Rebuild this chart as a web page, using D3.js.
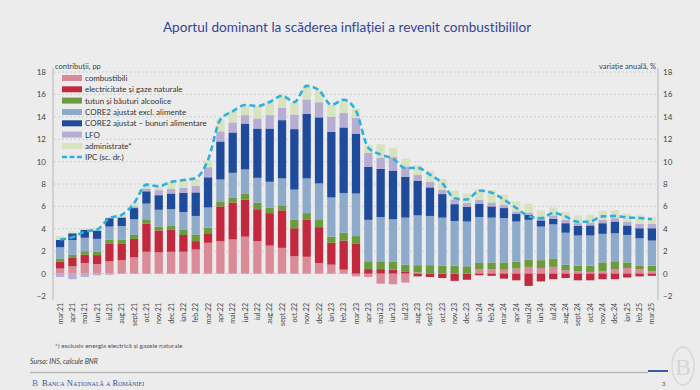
<!DOCTYPE html>
<html><head><meta charset="utf-8">
<script src="https://cdn.jsdelivr.net/npm/d3@7"></script>
<style>
html,body{margin:0;padding:0;background:#ececec;}
svg{display:block;font-family:Lato,"Open Sans",sans-serif;}
</style></head><body>
<svg id="c" width="700" height="390"></svg>
<script>
const months = ["mar.21","apr.21","mai.21","iun.21","iul.21","aug.21","sept.21","oct.21","nov.21","dec.21","ian.22","feb.22","mar.22","apr.22","mai.22","iun.22","iul.22","aug.22","sept.22","oct.22","nov.22","dec.22","ian.23","feb.23","mar.23","apr.23","mai.23","iun.23","iul.23","aug.23","sept.23","oct.23","nov.23","dec.23","ian.24","feb.24","mar.24","apr.24","mai.24","iun.24","iul.24","aug.24","sept.24","oct.24","nov.24","dec.24","ian.25","feb.25","mar.25"];

const combustibili = [0.45,0.65,0.95,0.85,1.1,1.2,1.45,1.95,1.9,1.95,1.95,2.15,2.75,2.9,3.05,3.3,2.9,2.5,2.3,1.55,1.5,0.95,0.8,0.35,-0.25,-0.3,-0.9,-0.95,-0.8,0.1,0.05,0.05,0.05,0.05,0.4,0.4,0.35,0.45,0.6,0.5,0.6,0.3,0.2,0.15,0.2,0.4,0.5,0.4,0.2];
const electricitate = [0.6,0.75,0.75,0.8,1.6,1.5,1.65,2.5,1.95,1.95,1.5,0.75,0.85,3.1,3.3,3.3,2.85,2.9,3.35,2.5,3.3,3.2,1.95,2.6,2.65,0.4,0.4,0.35,0.2,-0.25,-0.3,-0.4,-0.65,-0.55,-0.15,-0.2,-0.45,-0.6,-1.1,-0.7,-0.5,-0.4,-0.6,-0.6,-0.5,-0.5,-0.35,-0.25,-0.2];
const tutun = [0.3,0.3,0.3,0.3,0.35,0.35,0.35,0.4,0.35,0.35,0.45,0.6,0.5,0.45,0.45,0.55,0.6,0.5,0.45,0.75,0.6,0.7,0.55,0.7,0.7,0.7,0.7,0.7,0.6,0.65,0.7,0.65,0.65,0.6,0.55,0.6,0.65,0.6,0.65,0.7,0.75,0.5,0.5,0.55,0.8,0.7,0.5,0.3,0.5];
const core2Excl = [1.0,1.3,1.2,1.15,1.15,1.2,1.4,1.4,1.5,1.5,1.6,1.65,1.8,1.95,2.2,2.15,2.2,2.3,2.4,2.7,3.1,3.2,3.5,3.55,3.8,3.7,3.95,3.8,4.2,4.45,4.4,4.3,4.0,4.0,4.1,4.0,3.95,3.6,3.55,3.0,3.05,2.85,2.7,2.7,2.55,2.5,2.45,2.45,2.25];
const core2Alim = [0.65,0.6,0.7,0.75,0.75,0.75,1.0,1.1,1.3,1.4,1.7,2.1,2.7,3.4,3.6,4.1,4.4,4.75,5.2,5.4,5.75,5.9,5.85,5.85,5.35,4.75,4.3,4.35,3.65,3.1,2.55,2.1,1.5,1.3,1.2,1.0,0.9,0.7,0.45,0.55,0.5,0.85,0.85,0.9,0.95,1.05,0.85,0.9,1.1];
const lfo = [-0.3,-0.5,-0.3,-0.15,-0.1,0.05,0.15,0.25,0.45,0.4,0.45,0.6,0.9,0.9,0.9,0.75,0.9,1.2,1.1,1.3,1.3,1.35,1.35,1.3,1.4,1.25,1.0,1.2,0.9,0.5,0.5,0.4,0.4,0.35,0.35,0.35,0.3,0.2,0.2,0.3,0.3,0.3,0.25,0.25,0.3,0.3,0.35,0.4,0.4];
const administrate = [0.35,0.15,0.15,0.25,0.1,0.2,0.3,0.35,0.3,0.65,0.7,0.6,0.6,1.05,1.0,0.9,1.1,1.15,1.1,1.1,1.2,1.05,1.05,1.15,0.85,0.7,1.2,0.8,0.7,0.9,0.95,0.95,0.8,0.85,0.95,1.1,0.9,0.9,0.8,0.6,0.7,0.7,0.7,0.7,0.8,0.7,0.7,0.75,0.6];
const ipc = [3.05,3.24,3.75,3.94,4.95,5.25,6.29,7.94,7.80,8.19,8.35,8.53,10.15,13.76,14.49,15.05,14.96,15.32,15.88,15.32,16.76,16.37,15.07,15.52,14.53,11.23,10.64,10.25,9.43,9.44,8.83,8.07,6.72,6.61,7.41,7.23,6.61,5.86,5.12,4.94,5.42,5.10,4.62,4.67,5.11,5.14,5.01,4.97,4.86];

const seriesNames = ["combustibili","electricitate și gaze naturale","tutun  și băuturi alcoolice","CORE2 ajustat excl. alimente","CORE2 ajustat – bunuri alimentare","LFO","administrate*"];
const seriesValues = [combustibili, electricitate, tutun, core2Excl, core2Alim, lfo, administrate];
const seriesColors = ["#db8a97","#c2293f","#6b9b3c","#8eaacb","#1f4b9c","#b7acd2","#d7e3bf"];
const yTicks = [-2,0,2,4,6,8,10,12,14,16,18];

const svg = d3.select("#c");

// title
svg.append("text").attr("x",347).attr("y",32).attr("text-anchor","middle")
  .attr("font-size",13.6).attr("fill","#34449c").style("font-variant-ligatures","none")
  .text("Aportul dominant la scăderea inflației a revenit combustibililor");

const x = d3.scaleBand().domain(months).range([54,658]).paddingInner(0.33).paddingOuter(0.16);
const yL = d3.scaleLinear().domain([-2,18]).range([296,72]);
const yR = d3.scaleLinear().domain([-2,18]).range([296,72]);

// grid
svg.append("g").selectAll("line").data(yTicks.filter(d=>d!==-2)).join("line")
  .attr("x1",54).attr("x2",658).attr("y1",d=>yL(d)).attr("y2",d=>yL(d))
  .attr("stroke","#c6c6c6").attr("stroke-width",0.8).attr("stroke-dasharray","2,2");

// axes
const axL = svg.append("g").attr("transform","translate(53,0)")
  .call(d3.axisLeft(yL).tickValues(yTicks).tickSize(0).tickPadding(7));
const axR = svg.append("g").attr("transform","translate(658,0)")
  .call(d3.axisRight(yR).tickValues(yTicks).tickSize(0).tickPadding(5));
[axL,axR].forEach(a=>{
  a.select(".domain").attr("stroke","#b5b5b5").attr("d","M0,68V300");
  a.selectAll("text").attr("font-size",8).attr("fill","#444").attr("font-family","Lato,sans-serif");
});

// stacked data
const rows = months.map((m,i)=>{
  const o = {month:m};
  seriesNames.forEach((s,j)=>o[s]=seriesValues[j][i]);
  return o;
});
const stacked = d3.stack().keys(seriesNames).offset(d3.stackOffsetDiverging)(rows);

svg.append("g").selectAll("g").data(stacked).join("g")
  .attr("fill",(d,i)=>seriesColors[i])
  .selectAll("rect").data(d=>d).join("rect")
  .attr("x",d=>x(d.data.month)).attr("width",x.bandwidth())
  .attr("y",d=>yL(Math.max(d[0],d[1]))).attr("height",d=>Math.abs(yL(d[0])-yL(d[1])));

// IPC line
const line = d3.line().x((d,i)=>x(months[i])+x.bandwidth()/2).y(d=>yR(d)).curve(d3.curveMonotoneX);
svg.append("path").datum(ipc).attr("d",line).attr("fill","none")
  .attr("stroke","#2bb0e0").attr("stroke-width",2.6).attr("stroke-dasharray","6,3.5");

// axis titles
svg.append("text").attr("x",55).attr("y",69).attr("font-size",7.5).attr("fill","#444").text("contribuții, pp");
svg.append("text").attr("x",656).attr("y",69).attr("text-anchor","end").attr("font-size",7.5).attr("fill","#444").text("variație anuală, %");

// legend
const legY = [78,89.3,100.6,112,123.3,134.6,145.9];
const leg = svg.append("g");
seriesNames.forEach((s,i)=>{
  leg.append("rect").attr("x",62).attr("y",legY[i]-3).attr("width",20).attr("height",6).attr("fill",seriesColors[i]);
  leg.append("text").attr("x",85).attr("y",legY[i]+3).attr("font-size",8).attr("fill","#333").text(s);
});
leg.append("line").attr("x1",62).attr("x2",82).attr("y1",157).attr("y2",157)
  .attr("stroke","#2bb0e0").attr("stroke-width",2.4).attr("stroke-dasharray","5,2.5");
leg.append("text").attr("x",85).attr("y",160).attr("font-size",8).attr("fill","#333").text("IPC (sc. dr.)");

// x labels
svg.append("g").selectAll("text").data(months).join("text")
  .attr("transform",d=>`translate(${x(d)+x.bandwidth()/2+2.5},303) rotate(-90)`)
  .attr("text-anchor","end").attr("font-size",7).attr("fill","#444").text(d=>d);

// footnotes
svg.append("text").attr("x",55).attr("y",348).attr("font-size",6.5).attr("fill","#555").text("*) exclusiv energia electrică și gazele naturale");
svg.append("text").attr("x",30).attr("y",364).attr("font-size",7).attr("font-style","italic").attr("fill","#444").text("Sursa: INS, calcule BNR");

// footer
svg.append("line").attr("x1",30).attr("x2",648).attr("y1",372.5).attr("y2",372.5).attr("stroke","#b9b9b9").attr("stroke-width",1.5);
svg.append("line").attr("x1",648).attr("x2",668).attr("y1",371).attr("y2",371).attr("stroke","#3b5cae").attr("stroke-width",2);
svg.append("text").attr("x",42).attr("y",386).attr("font-size",8.5).attr("fill","#3a4d9e")
  .attr("font-family","'Liberation Serif',serif").style("font-variant","small-caps").text("Banca Națională a României");
svg.append("text").attr("x",35).attr("y",386).attr("text-anchor","middle").attr("font-size",9).attr("fill","#5a6fb5").attr("font-family","'Liberation Serif',serif").text("B");
svg.append("text").attr("x",662).attr("y",386).attr("font-size",6).attr("fill","#555").text("3");
// logo (decorative)
const lg = svg.append("g").attr("fill","none").attr("stroke","#d8d8d8").attr("stroke-width",1.6);
lg.append("ellipse").attr("cx",683).attr("cy",366).attr("rx",11).attr("ry",19);
svg.append("text").attr("x",683).attr("y",375).attr("text-anchor","middle").attr("font-size",24).attr("fill","#d6d6d6").attr("font-family","'Liberation Serif',serif").text("B");
</script>
</body></html>
